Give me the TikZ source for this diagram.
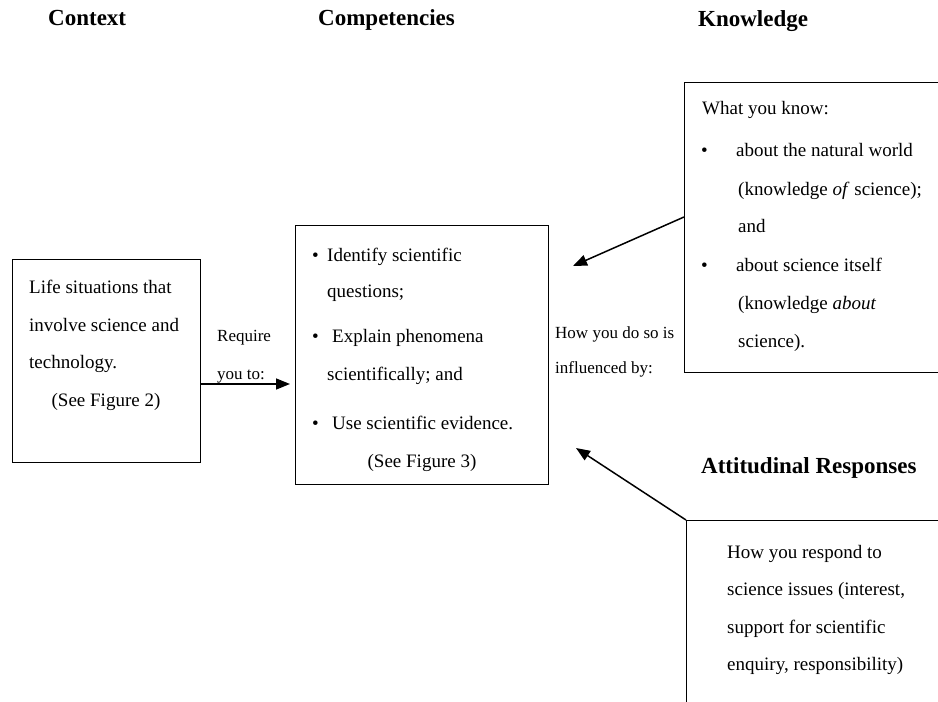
\documentclass[tikz,border=0pt]{standalone}
\usepackage{fontspec}
\setmainfont{Liberation Serif}
\usetikzlibrary{arrows.meta}
\begin{document}
\begin{tikzpicture}[x=1bp,y=-1bp,
  box/.style={draw, line width=0.9bp, inner sep=0, outer sep=0, anchor=north west},
  txt/.style={anchor=base west, inner sep=0, font=\fontsize{19bp}{23bp}\selectfont},
  ctxt/.style={anchor=base, inner sep=0, font=\fontsize{19bp}{23bp}\selectfont},
  side/.style={anchor=base west, inner sep=0, font=\fontsize{17bp}{20bp}\selectfont},
  head/.style={anchor=base west, inner sep=0, font=\fontsize{23bp}{27bp}\selectfont\bfseries},
  arr/.style={line width=1.5bp, -{Triangle[length=14bp,width=11bp]}}]
\useasboundingbox (0,0) rectangle (938,702);
\clip (0,0) rectangle (938,702);

% headers
\node[head] (hctx) at (48,26) {Context};
\node[head] (hcomp) at (318,26) {Competencies};
\node[head] (hknow) at (698,27) {Knowledge};
\node[head] (hatt) at (701,473) {Attitudinal Responses};

% boxes
\node[box, minimum width=188bp, minimum height=203bp] (ctx) at (12,259) {};
\node[box, minimum width=253bp, minimum height=259bp] (comp) at (295,225) {};
\node[box, minimum width=280bp, minimum height=290bp] (know) at (684,82) {};
\node[box, minimum width=280bp, minimum height=220bp] (att) at (686,520) {};

% context text
\node[txt] (c1) at (29,293) {Life situations that};
\node[txt] (c2) at (29,331) {involve science and};
\node[txt] (c3) at (29,368) {technology.};
\node[ctxt] (c4) at (106,406) {(See Figure 2)};

% side labels
\node[side] (r1) at (217,341) {Require};
\node[side] (r2) at (217,379) {you to:};
\node[side] (h1) at (555,338) {How you do so is};
\node[side] (h2) at (555,373) {influenced by:};

% competencies text
\node[txt] (b1) at (312,261) {\textbullet};
\node[txt] (p1) at (327,261) {Identify scientific};
\node[txt] (p2) at (327,297) {questions;};
\node[txt] (b2) at (312,342) {\textbullet};
\node[txt] (p3) at (332,342) {Explain phenomena};
\node[txt] (p4) at (327,380) {scientifically; and};
\node[txt] (b3) at (312,429) {\textbullet};
\node[txt] (p5) at (332,429) {Use scientific evidence.};
\node[ctxt] (p6) at (422,467) {(See Figure 3)};

% knowledge text
\node[txt] (k0) at (702,115) {What you know:};
\node[txt] (kb1) at (701,157) {\textbullet};
\node[txt] (k1) at (736,157) {about the natural world};
\node[txt] (k2) at (738,195) {(knowledge \textit{of} science);};
\node[txt] (k3) at (738,232) {and};
\node[txt] (kb2) at (701,271) {\textbullet};
\node[txt] (k4) at (736,271) {about science itself};
\node[txt] (k5) at (738,309) {(knowledge \textit{about}};
\node[txt] (k6) at (738,347) {science).};

% attitudinal text
\node[txt] (a1) at (727,558) {How you respond to};
\node[txt] (a2) at (727,595) {science issues (interest,};
\node[txt] (a3) at (727,633) {support for scientific};
\node[txt] (a4) at (727,670) {enquiry, responsibility)};

% connectors
\coordinate (ry) at (0,384);
\coordinate (kt) at (573,266);
\coordinate (at) at (576,448);
\draw[arr, shorten >=5bp] (ctx.east |- ry) -- (comp.west |- ry);
\draw[arr] ([yshift=-135bp]know.north west) -- (kt);
\draw[arr] (att.north west) -- (at);
\end{tikzpicture}
\end{document}
